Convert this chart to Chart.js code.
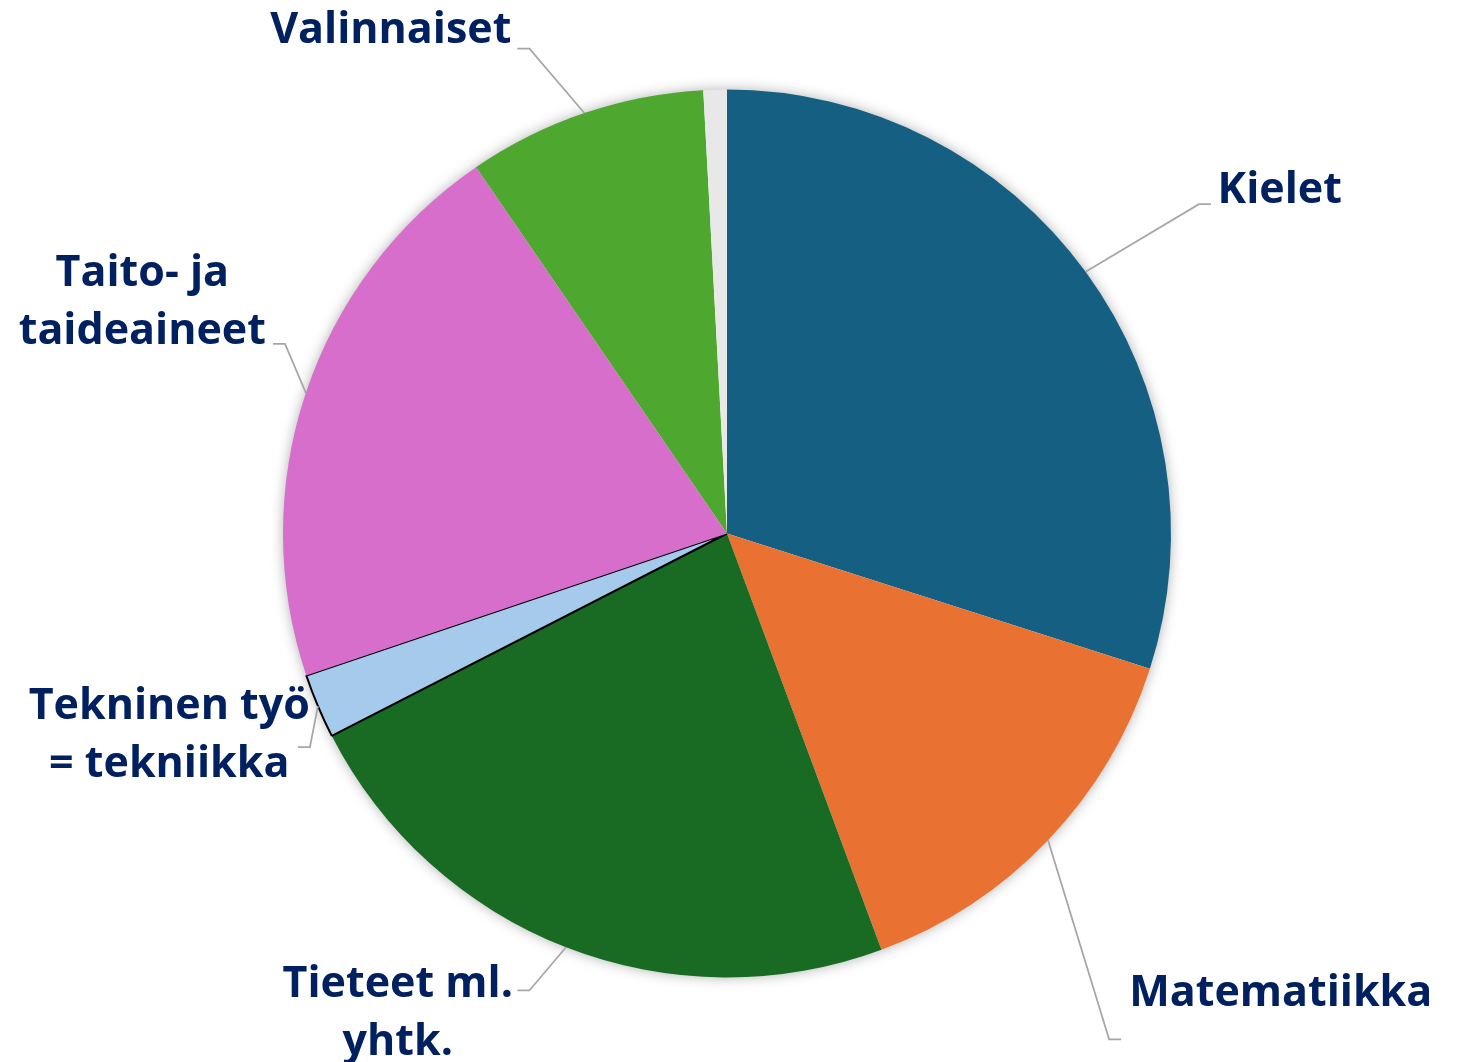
<!DOCTYPE html>
<html>
<head>
<meta charset="utf-8">
<script src="https://cdn.jsdelivr.net/npm/chart.js@4/dist/chart.umd.min.js"></script>
<style>
  html, body { margin: 0; padding: 0; background: #fff; }
  #wrap { width: 1458px; height: 1062px; position: relative; }
</style>
</head>
<body>
<div id="wrap"><canvas id="chart"></canvas></div>
<script>
// data (share of lessons, %)
const categories = ['Kielet', 'Matematiikka', 'Tieteet ml.\nyhtk.', 'Tekninen työ\n= tekniikka', 'Taito- ja\ntaideaineet', 'Valinnaiset', ''];
const values = [29.9, 14.4, 23.1, 2.35, 20.6, 8.7, 0.85];

const colors = ['#156082', '#e97132', '#196b24', '#a6caec', '#d86ecc', '#4ea72e', '#e8e8e8'];
const borderWidths = [0, 0, 0, 2, 0, 0, 0];

// label layout, pixels relative to pie centre (for r = 445)
// elbow of leader line, side the short tail goes to, text x and first baseline
const labelLayout = [
    { elbow: [473, -330], side: 1, text: [554, -331] },
    { elbow: [383, 507], side: 1, text: [555, 474] },
    { elbow: [-198, 458], side: -1, text: [-330, 465] },
    { elbow: [-418, 214], side: -1, text: [-559, 186] },
    { elbow: [-443, -190], side: -1, text: [-586, -248] },
    { elbow: [-198, -486], side: -1, text: [-337, -492] },
    null
];

const pieShadow = {
    id: 'pieShadow',
    beforeDatasetsDraw(chart) {
        const arc = chart.getDatasetMeta(0).data[0];
        if (!arc) return;
        const ctx = chart.ctx;
        ctx.save();
        ctx.shadowColor = 'rgba(0,0,0,0.35)';
        ctx.shadowBlur = 14;
        ctx.fillStyle = '#fff';
        ctx.beginPath();
        ctx.arc(arc.x, arc.y, arc.outerRadius - 1, 0, Math.PI * 2);
        ctx.fill();
        ctx.restore();
    }
};

const leaderLabels = {
    id: 'leaderLabels',
    afterDatasetsDraw(chart) {
        const ctx = chart.ctx;
        const meta = chart.getDatasetMeta(0);
        meta.data.forEach((arc, i) => {
            const lay = labelLayout[i];
            if (!lay) return;
            const p = arc.getProps(['x', 'y', 'startAngle', 'endAngle', 'outerRadius'], true);
            const k = p.outerRadius / 445;
            const mid = (p.startAngle + p.endAngle) / 2;
            const sx = p.x + Math.cos(mid) * p.outerRadius;
            const sy = p.y + Math.sin(mid) * p.outerRadius;
            const ex = p.x + lay.elbow[0] * k;
            const ey = p.y + lay.elbow[1] * k;
            ctx.save();
            ctx.strokeStyle = '#a6a6a6';
            ctx.lineWidth = 1.75;
            ctx.beginPath();
            ctx.moveTo(sx, sy);
            ctx.lineTo(ex, ey);
            ctx.lineTo(ex + lay.side * 12, ey);
            ctx.stroke();

            ctx.fillStyle = '#002060';
            ctx.font = 'bold 43px "Open Sans"';
            ctx.textAlign = 'center';
            ctx.textBaseline = 'alphabetic';
            const lines = categories[i].split('\n');
            lines.forEach((t, j) => {
                ctx.fillText(t, p.x + lay.text[0] * k, p.y + lay.text[1] * k + j * 58);
            });
            ctx.restore();
        });
    }
};

new Chart(document.getElementById('chart'), {
    type: 'pie',
    data: {
        labels: categories,
        datasets: [{
            data: values,
            backgroundColor: colors,
            borderColor: '#000',
            borderWidth: borderWidths
        }]
    },
    options: {
        responsive: true,
        maintainAspectRatio: false,
        animation: false,
        layout: { padding: { left: 282, right: 286, top: 88, bottom: 83 } },
        plugins: {
            legend: { display: false },
            tooltip: { enabled: false }
        }
    },
    plugins: [pieShadow, leaderLabels]
});
</script>
</body>
</html>
